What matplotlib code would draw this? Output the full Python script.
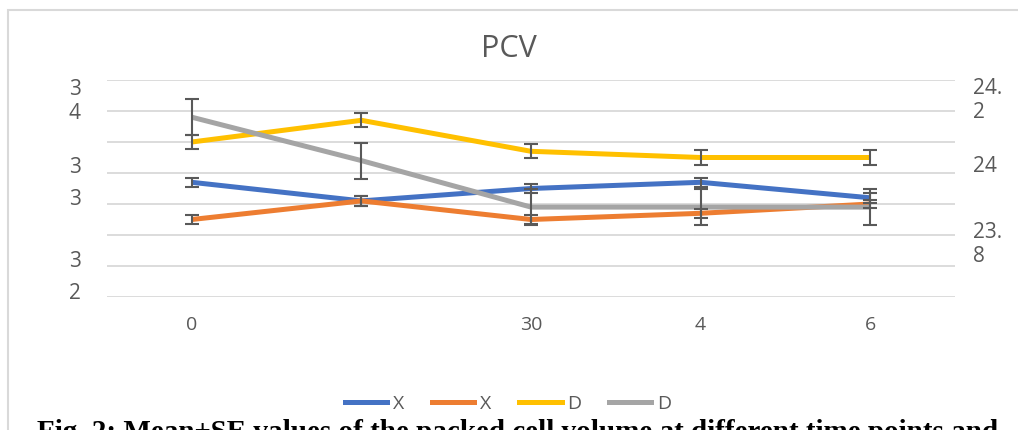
import matplotlib
matplotlib.use("Agg")
import matplotlib.pyplot as plt
from matplotlib.patches import Rectangle
from matplotlib.lines import Line2D

# categories (time points) and their (truncated) tick labels
categories = [0, 1, 2, 3, 4]
x_labels = ["0", "", "30", "4", "6"]

# series means and SE
series_names = ["X", "X", "D", "D"]
blue_vals = [23.97, 23.91, 23.95, 23.97, 23.92]
orange_vals = [23.85, 23.91, 23.85, 23.87, 23.90]
yellow_vals = [24.10, 24.17, 24.07, 24.05, 24.05]
gray_vals = [24.18, 24.04, 23.89, 23.89, 23.89]
blue_err = [0.014, 0.016, 0.014, 0.015, 0.016]
orange_err = [0.013, 0.016, 0.014, 0.014, 0.014]
yellow_err = [0.024, 0.023, 0.023, 0.023, 0.023]
gray_err = [0.058, 0.058, 0.058, 0.058, 0.058]

# wrapped axis labels as they appear in the picture
left_ticks = [24.245, 24.027, 23.923, 23.723, 23.618]
left_labels = ["3\n4", "3", "3", "3", "2"]
right_ticks = [24.247, 24.029, 23.782]
right_labels = ["24.\n2", "24", "23.\n8"]
grid_levels = [23.6, 23.7, 23.8, 23.9, 24.0, 24.1, 24.2, 24.3]

colors = ["#4472C4", "#ED7D31", "#FFC000", "#A5A5A5"]
txt = "#595959"
font = ["Open Sans", "DejaVu Sans"]
narrow = ["Liberation Sans Narrow", "Open Sans", "DejaVu Sans"]

W, H = 1018, 430
fig = plt.figure(figsize=(W / 100, H / 100), dpi=100)
ax = fig.add_axes([107 / W, 1 - 297 / H, (955 - 107) / W, (297 - 80) / H])

# chart frame (light gray, runs off the crop)
fig.patches.append(Rectangle((8 / W, -0.1), 1.2, 1 + 0.1 - 10 / H,
                             transform=fig.transFigure, fill=False,
                             edgecolor="#D9D9D9", lw=1.5))

all_vals = [blue_vals, orange_vals, yellow_vals, gray_vals]
all_err = [blue_err, orange_err, yellow_err, gray_err]
for vals, c in zip(all_vals, colors):
    ax.plot(categories, vals, color=c, lw=3.6, solid_capstyle="butt", zorder=3)
for vals, err in zip(all_vals, all_err):
    ax.errorbar(categories, vals, yerr=err, fmt="none", ecolor=txt,
                elinewidth=1.5, capsize=5, capthick=1.5, zorder=4)

ax.set_xlim(-0.5, 4.5)
ax.set_ylim(23.6, 24.3)
ax.set_yticks(grid_levels)
ax.set_yticklabels([])
ax.tick_params(axis="y", which="major", length=0)
ax.set_yticks(left_ticks, minor=True)
ax.set_yticklabels(left_labels, minor=True, family=font, fontsize=15, color=txt)
ax.tick_params(axis="y", which="minor", length=0, pad=19)
ax.grid(axis="y", which="major", color="#D9D9D9", lw=1.3)
ax.set_axisbelow(True)
ax.set_xticks(categories)
ax.set_xticklabels(x_labels, family=narrow, fontsize=14, color=txt)
ax.tick_params(axis="x", length=0, pad=14)
for s in ax.spines.values():
    s.set_visible(False)

ax2 = ax.twinx()
ax2.set_ylim(ax.get_ylim())
ax2.set_yticks(right_ticks)
ax2.set_yticklabels(right_labels, family=font, fontsize=15, color=txt)
ax2.tick_params(axis="y", length=0, pad=13)
for s in ax2.spines.values():
    s.set_visible(False)

fig.text(509 / W, 1 - 57 / H, "PCV", ha="center", va="baseline",
         family=font, fontsize=22, color=txt)

handles = [Line2D([], [], color=c, lw=3.6) for c in colors]
fig.legend(handles, series_names, loc="center", bbox_to_anchor=(508 / W, 1 - 404 / H),
           ncol=4, frameon=False, prop={"family": narrow, "size": 14},
           labelcolor=txt, handlelength=2.2, handletextpad=0.3, columnspacing=1.4)

fig.text(37 / W, 1 - 440 / H,
         "Fig. 2: Mean\u00b1SE values of the packed cell volume at different time points and",
         ha="left", va="baseline", family=["Liberation Serif", "DejaVu Serif"],
         fontweight="bold", fontsize=21, color="black")

fig.savefig("out.png", dpi=100)
